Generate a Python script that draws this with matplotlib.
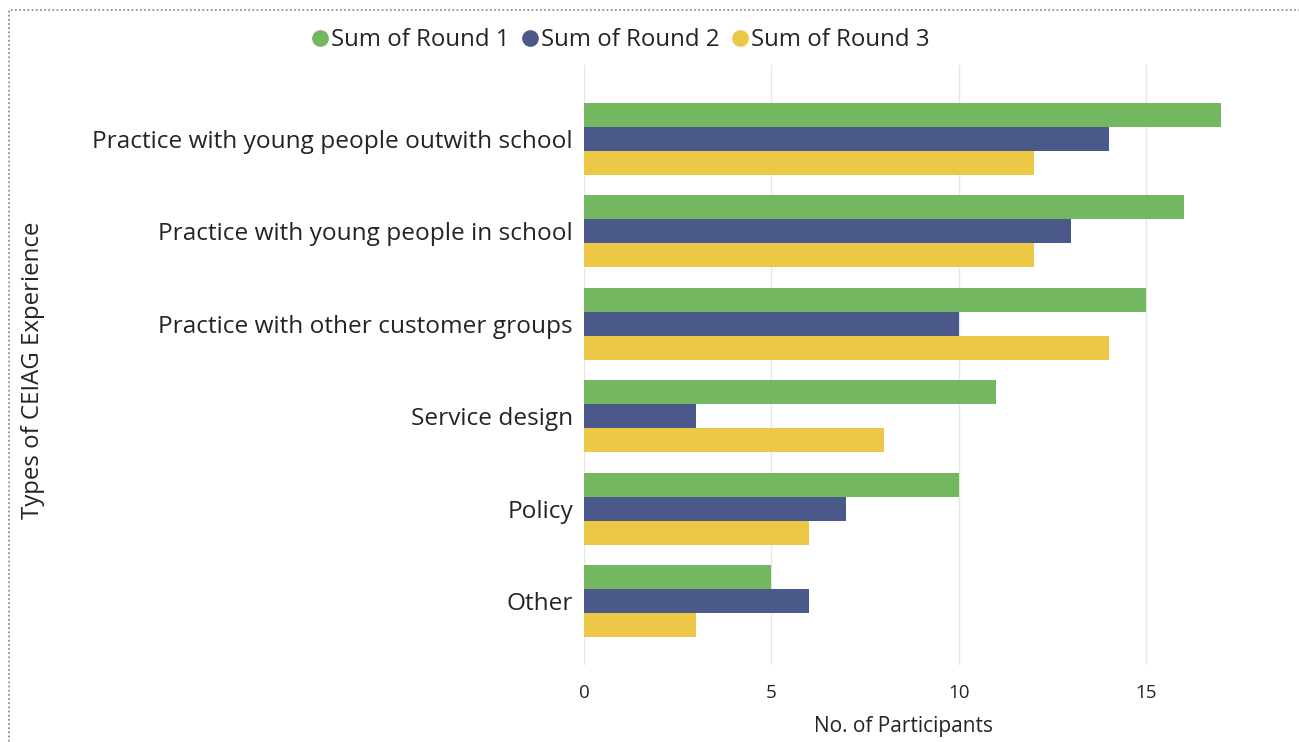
import numpy as np
import matplotlib.pyplot as plt
from matplotlib.patches import Rectangle

plt.rcParams['font.family'] = ['Open Sans', 'DejaVu Sans']

categories = ['Practice with young people outwith school',
              'Practice with young people in school',
              'Practice with other customer groups',
              'Service design',
              'Policy',
              'Other']
round1 = [17, 16, 15, 11, 10, 5]
round2 = [14, 13, 10, 3, 7, 6]
round3 = [12, 12, 14, 8, 6, 3]
series_names = ['Sum of Round 1', 'Sum of Round 2', 'Sum of Round 3']
colors = ['#73B761', '#4A588A', '#ECC846']

W, H = 1299, 742
fig = plt.figure(figsize=(W / 100, H / 100), dpi=100)
ax = fig.add_axes([584 / W, 1 - 665 / H, (1290 - 584) / W, (665 - 65) / H])

y = np.arange(len(categories))
bh = 0.26
for i, (vals, name, c) in enumerate(zip([round1, round2, round3], series_names, colors)):
    ax.barh(y + (i - 1) * bh, vals, height=bh, color=c, label=name, zorder=3)

ax.set_ylim(5.69, -0.8)
ax.set_xlim(0, 18.83)
ax.set_xticks([0, 5, 10, 15])
ax.set_yticks(y)
ax.set_yticklabels(categories, fontsize=17.6, color='#252423')
ax.tick_params(axis='x', labelsize=13.5, colors='#252423', length=0, pad=14)
ax.tick_params(axis='y', length=0, pad=8)
ax.grid(axis='x', color='#E6E6E6', lw=1, zorder=0)
for s in ax.spines.values():
    s.set_visible(False)

ax.set_xlabel('No. of Participants', fontsize=15, color='#252423')
ax.xaxis.set_label_coords((903 - 584) / (1290 - 584), -(716 - 665) / (665 - 65))
fig.text(33 / W, 1 - 370 / H, 'Types of CEIAG Experience', rotation=90,
         fontsize=17.3, color='#252423', ha='center', va='center')

leg = fig.legend(loc='center', bbox_to_anchor=(621 / W, 1 - 40 / H), ncol=3,
                 frameon=False, fontsize=17.3, handlelength=0.6, handletextpad=0.15,
                 columnspacing=0.55,
                 handles=[plt.Line2D([], [], marker='o', ls='', color=c, markersize=11)
                          for c in colors],
                 labels=series_names)
for t in leg.get_texts():
    t.set_color('#252423')

fig.patches.append(Rectangle((9 / W, -0.1), 1.2, 1 - 10 / H + 0.1, transform=fig.transFigure,
                             fill=False, ls=(0, (1, 1.5)), lw=1.2, ec='#808080'))

fig.savefig('out.png', dpi=100)
